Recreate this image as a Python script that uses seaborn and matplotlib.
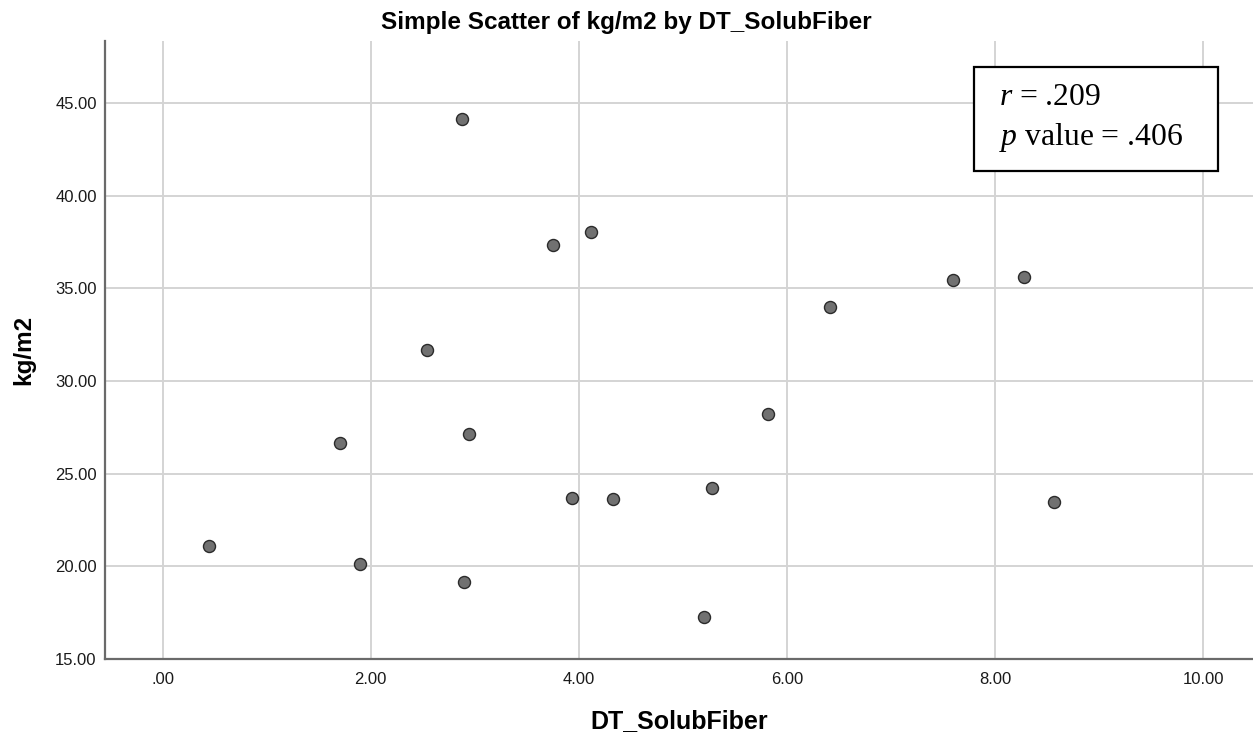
import matplotlib
matplotlib.use("Agg")
import matplotlib.pyplot as plt
import seaborn as sns
import pandas as pd
from matplotlib.patches import Rectangle
from matplotlib.ticker import FixedLocator, FuncFormatter

solub_fiber = [0.445, 1.708, 1.897, 2.544, 2.948, 2.900, 3.938, 4.327, 5.282,
               5.202, 5.820, 6.416, 8.570, 7.600, 8.280, 2.872, 3.750, 4.112]
kg_m2 = [21.11, 26.64, 20.13, 31.66, 27.13, 19.14, 23.71, 23.63, 24.21,
         17.27, 28.24, 33.98, 23.46, 35.45, 35.62, 44.10, 37.34, 38.01]
x_ticks = [0, 2, 4, 6, 8, 10]
y_ticks = [15, 20, 25, 30, 35, 40, 45]
stat_lines = [r"$\mathit{r}$ = .209", r"$\mathit{p}$ value = .406"]

df = pd.DataFrame({"DT_SolubFiber": solub_fiber, "kg/m2": kg_m2})

sns.set_style("white")
plt.rcParams["font.family"] = ["Liberation Sans", "DejaVu Sans"]
plt.rcParams["mathtext.fontset"] = "custom"
plt.rcParams["mathtext.rm"] = "Liberation Serif"
plt.rcParams["mathtext.it"] = "Liberation Serif:italic"
plt.rcParams["text.color"] = "black"
plt.rcParams["axes.labelcolor"] = "black"

W, H = 1253, 740
fig = plt.figure(figsize=(W / 100, H / 100), dpi=100)
ax = fig.add_axes([105 / W, 1 - 659 / H, (W - 105) / W, (659 - 40.7) / H])

sns.scatterplot(data=df, x="DT_SolubFiber", y="kg/m2", ax=ax, s=75,
                color="#717171", edgecolor="#2b2b2b", linewidth=1.0, zorder=3)

ax.set_xlim(-0.555, 10.48)
ax.set_ylim(15, 48.35)
ax.xaxis.set_major_locator(FixedLocator(x_ticks))
ax.yaxis.set_major_locator(FixedLocator(y_ticks))

def fmt(v, pos):
    s = f"{v:.2f}"
    return s[1:] if s.startswith("0.") else s

ax.xaxis.set_major_formatter(FuncFormatter(fmt))
ax.yaxis.set_major_formatter(FuncFormatter(fmt))
ax.tick_params(axis="both", length=0, labelsize=12, colors="#1a1a1a")
ax.tick_params(axis="y", pad=6)
ax.tick_params(axis="x", pad=9)

ax.grid(True, color="#d4d4d4", linewidth=1.4, zorder=0)
ax.set_axisbelow(True)
for side in ["top", "right"]:
    ax.spines[side].set_visible(False)
for side in ["left", "bottom"]:
    ax.spines[side].set_color("#6a6a6a")
    ax.spines[side].set_linewidth(1.6)

ax.set_xlabel("DT_SolubFiber", fontsize=18, fontweight="bold", labelpad=16)
ax.set_ylabel("kg/m2", fontsize=17.5, fontweight="bold", labelpad=14)

fig.text(0.5, 1 - 22 / H, "Simple Scatter of kg/m2 by DT_SolubFiber",
         ha="center", va="center", fontsize=17.5, fontweight="bold")

rect = Rectangle((974 / W, 1 - 171 / H), 243.7 / W, 104.3 / H,
                 transform=fig.transFigure, facecolor="white",
                 edgecolor="black", linewidth=1.6, zorder=5)
fig.add_artist(rect)
fig.text(999 / W, 1 - 105 / H, stat_lines[0], ha="left", va="baseline",
         fontsize=22.8, family="Liberation Serif", zorder=6)
fig.text(999 / W, 1 - 145 / H, stat_lines[1], ha="left", va="baseline",
         fontsize=22.8, family="Liberation Serif", zorder=6)

fig.savefig("out.png", dpi=100)
